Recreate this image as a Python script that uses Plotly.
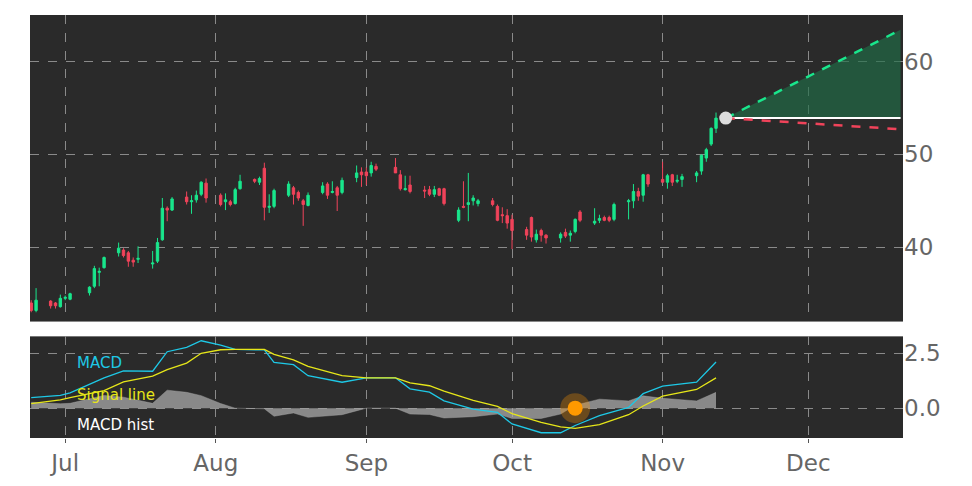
import pandas as pd
import plotly.graph_objects as go
from plotly.subplots import make_subplots

# Daily candles
dates = pd.bdate_range("2021-06-24", "2021-11-12")
dates = dates[~dates.isin(pd.to_datetime(["2021-07-05", "2021-09-06"]))]

opens = [34.0, 33.2, 34.2, 34.0, 33.6, 34.5, 34.4, 35.1, 35.8, 37.3, 37.8,
         39.4, 39.7, 39.4, 38.6, 38.7, 38.2, 38.5, 40.8, 44.2, 44.0,
         45.4, 44.9, 45.1, 45.7, 46.9, 45.6, 44.9, 44.9, 44.7, 46.3,
         47.3, 47.0, 48.5, 44.3, 44.4, 45.6, 46.4, 45.9, 45.0, 44.5,
         45.9, 46.8, 45.9, 46.4, 45.9, 47.5, 48.1, 48.1, 48.0, 48.7,
         48.6, 47.8, 46.2, 46.7, 46.15, 46.2, 45.7, 46.3, 46.3,
         42.9, 44.4, 44.6, 45.0, 44.7, 45.0, 44.4, 43.5, 43.4, 43.0,
         41.9, 43.2, 40.8, 41.8, 41.3, 41.0, 41.6, 41.3, 41.7, 43.8,
         42.6, 42.9, 43.2, 43.2, 43.0, 44.9, 45.0, 46.0, 45.6, 47.8,
         47.3, 47.0, 47.8, 47.1, 47.3, 47.7, 48.2, 49.6, 51.1, 52.8]
highs = [34.3, 35.6, 34.3, 34.1, 34.9, 34.8, 35.1, 35.8, 38.0, 37.8, 39.0,
         40.5, 39.9, 39.6, 38.9, 40.1, 39.6, 41.0, 45.3, 44.4, 45.4,
         46.0, 45.6, 46.1, 47.1, 47.4, 45.8, 45.8, 45.1, 46.4, 47.8,
         47.4, 47.6, 49.1, 45.7, 46.3, 47.1, 46.6, 46.1, 45.2, 45.9,
         47.0, 47.0, 47.1, 46.6, 47.5, 48.8, 48.6, 48.6, 49.2, 49.0,
         49.6, 48.3, 47.7, 47.7, 46.6, 46.6, 46.6, 46.4, 46.4,
         44.3, 47.1, 48.0, 45.6, 45.2, 45.3, 44.6, 44.3, 44.1, 43.5,
         42.2, 43.3, 41.9, 42.0, 41.4, 41.6, 42.0, 41.8, 43.1, 44.0,
         44.2, 43.5, 43.4, 43.4, 44.8, 45.2, 46.8, 46.4, 47.9, 47.9,
         49.2, 47.9, 47.9, 47.8, 47.9, 48.2, 50.0, 50.7, 52.9, 54.5]
lows = [33.0, 33.0, 33.4, 33.4, 33.5, 34.3, 34.3, 34.8, 35.6, 35.8, 37.7,
        39.0, 38.9, 37.9, 37.9, 38.3, 37.7, 38.3, 40.7, 42.8, 43.9,
        44.6, 43.6, 44.8, 45.5, 44.8, 44.4, 44.0, 44.4, 44.6, 46.2,
        46.9, 46.7, 42.9, 43.7, 44.2, 45.4, 44.6, 45.0, 42.3, 44.4,
        45.7, 45.2, 45.8, 43.9, 45.7, 47.0, 46.5, 46.7, 47.6, 48.2,
        48.0, 46.1, 46.1, 45.8, 45.3, 45.5, 45.4, 45.5, 44.5,
        42.7, 44.2, 42.8, 44.5, 44.4, 44.4, 42.8, 42.6, 42.0, 39.8,
        40.8, 40.6, 40.5, 40.6, 40.4, 40.5, 41.0, 40.6, 41.5, 42.7,
        42.4, 42.6, 42.8, 42.7, 42.8, 43.0, 44.2, 45.0, 44.9, 46.5,
        47.0, 46.3, 46.6, 46.9, 46.5, 47.0, 47.8, 49.2, 50.9, 52.3]
closes = [33.2, 34.3, 33.7, 33.7, 34.5, 34.6, 35.0, 35.7, 37.7, 37.4, 38.9,
          39.9, 39.1, 38.5, 38.4, 38.8, 38.3, 40.5, 44.2, 44.0, 45.2,
          44.9, 45.0, 45.6, 47.0, 45.3, 44.6, 45.1, 44.6, 46.2, 47.1,
          47.1, 47.4, 44.3, 44.4, 46.1, 46.8, 45.7, 45.3, 44.6, 45.6,
          46.6, 45.6, 46.0, 45.6, 47.2, 48.0, 47.8, 47.7, 48.8, 48.4,
          48.0, 46.3, 46.3, 46.0, 46.05, 45.7, 46.2, 45.6, 44.7,
          44.0, 44.3, 44.8, 45.3, 45.0, 44.6, 42.9, 43.4, 42.6, 41.8,
          41.3, 41.1, 41.4, 41.3, 41.0, 41.4, 41.2, 41.5, 43.0, 42.9,
          42.8, 43.1, 42.9, 42.9, 44.6, 45.0, 46.0, 45.5, 47.8, 46.8,
          47.0, 47.7, 47.0, 47.2, 47.6, 48.0, 49.9, 50.5, 52.8, 53.9]

# Forecast cone
pred_dates = ["2021-11-14", "2021-12-20"]
pred_base = [53.9, 53.9]
pred_high = [53.9, 63.4]
pred_low = [53.9, 52.7]

# MACD panel
macd_dates = ["2021-06-24", "2021-06-30", "2021-07-02", "2021-07-09", "2021-07-13",
              "2021-07-19", "2021-07-22", "2021-07-26", "2021-07-29", "2021-08-02",
              "2021-08-05", "2021-08-11", "2021-08-13", "2021-08-17", "2021-08-20",
              "2021-08-27", "2021-09-01", "2021-09-07", "2021-09-10", "2021-09-14",
              "2021-09-17", "2021-09-23", "2021-09-28", "2021-10-01", "2021-10-07",
              "2021-10-11", "2021-10-14", "2021-10-19", "2021-10-25", "2021-10-28",
              "2021-11-01", "2021-11-08", "2021-11-12"]
macd = [0.48, 0.58, 0.70, 1.38, 1.70, 1.68, 2.57, 2.77, 3.07, 2.87, 2.68, 2.65,
        2.08, 1.98, 1.48, 1.18, 1.38, 1.38, 0.88, 0.73, 0.33, -0.04, -0.19,
        -0.72, -1.12, -1.12, -0.79, -0.34, 0.03, 0.66, 1.00, 1.18, 2.10]
signal = [0.21, 0.38, 0.48, 0.80, 1.20, 1.46, 1.75, 2.05, 2.50, 2.66, 2.68, 2.68,
          2.45, 2.20, 1.90, 1.48, 1.38, 1.38, 1.15, 1.02, 0.78, 0.35, 0.08,
          -0.25, -0.65, -0.85, -0.92, -0.75, -0.30, 0.10, 0.55, 0.85, 1.38]
hist = [m - s for m, s in zip(macd, signal)]
cross_date = ["2021-10-14"]
cross_val = [0.0]

fig = make_subplots(rows=2, cols=1, shared_xaxes=True,
                    row_heights=[0.751, 0.249], vertical_spacing=0.035)

fig.add_trace(go.Candlestick(
    x=dates, open=opens, high=highs, low=lows, close=closes,
    increasing=dict(line=dict(color="#19e68c", width=1), fillcolor="#19e68c"),
    decreasing=dict(line=dict(color="#f0435a", width=1), fillcolor="#f0435a"),
    whiskerwidth=0, showlegend=False), row=1, col=1)

fig.add_trace(go.Scatter(x=pred_dates, y=pred_base, mode="lines",
                         line=dict(color="white", width=2), showlegend=False), row=1, col=1)
fig.add_trace(go.Scatter(x=pred_dates, y=pred_high, mode="lines", fill="tonexty",
                         fillcolor="rgba(32,110,72,0.65)",
                         line=dict(color="#19e68c", width=2.5, dash="dash"),
                         showlegend=False), row=1, col=1)
fig.add_trace(go.Scatter(x=pred_dates, y=pred_low, mode="lines",
                         line=dict(color="#f0435a", width=2.5, dash="dash"),
                         showlegend=False), row=1, col=1)
fig.add_trace(go.Scatter(x=pred_dates[:1], y=pred_base[:1], mode="markers",
                         marker=dict(color="#dddddd", size=13),
                         showlegend=False), row=1, col=1)

fig.add_trace(go.Scatter(x=macd_dates, y=hist, mode="lines", fill="tozeroy",
                         fillcolor="rgba(170,170,170,0.75)",
                         line=dict(color="rgba(170,170,170,0.8)", width=0.5),
                         showlegend=False), row=2, col=1)
fig.add_trace(go.Scatter(x=macd_dates, y=macd, mode="lines",
                         line=dict(color="#1ec8e6", width=1.3), showlegend=False), row=2, col=1)
fig.add_trace(go.Scatter(x=macd_dates, y=signal, mode="lines",
                         line=dict(color="#e6e619", width=1.3), showlegend=False), row=2, col=1)
fig.add_trace(go.Scatter(x=cross_date, y=cross_val, mode="markers",
                         marker=dict(color="rgba(255,150,0,0.3)", size=30),
                         showlegend=False, hoverinfo="skip"), row=2, col=1)
fig.add_trace(go.Scatter(x=cross_date, y=cross_val, mode="markers",
                         marker=dict(color="#ff9900", size=15),
                         showlegend=False), row=2, col=1)

for txt, col, yv in [("MACD", "#1ec8e6", 2.05), ("Signal line", "#e6e619", 0.6),
                     ("MACD hist", "white", -0.75)]:
    fig.add_annotation(x="2021-07-03", y=yv, xref="x2", yref="y2", text=txt,
                       showarrow=False, xanchor="left", font=dict(color=col, size=15))

grid = dict(showgrid=True, gridcolor="#8a8a8a", griddash="dash", gridwidth=1,
            zeroline=False, showline=False)
fig.update_xaxes(**grid, range=["2021-06-23 18:00", "2021-12-20 12:00"],
                 rangeslider_visible=False, dtick="M1", tickformat="%b",
                 tickfont=dict(size=23, color="#666666"),
                 ticks="outside", ticklen=4, tickcolor="#555555")
fig.update_xaxes(showticklabels=False, ticks="", row=1, col=1)
fig.update_yaxes(**grid, side="right", tickfont=dict(size=23, color="#666666"))
fig.update_yaxes(range=[32.0, 65.0], tickvals=[40, 50, 60], row=1, col=1)
fig.update_yaxes(range=[-1.36, 3.27], tickvals=[0, 2.5], tickformat=".1f", row=2, col=1)

fig.update_layout(
    width=956, height=475,
    paper_bgcolor="white", plot_bgcolor="#2a2a2a",
    margin=dict(l=22, r=61, t=7, b=38),
    font=dict(family="DejaVu Sans"),
)

fig.write_html("out.html")
